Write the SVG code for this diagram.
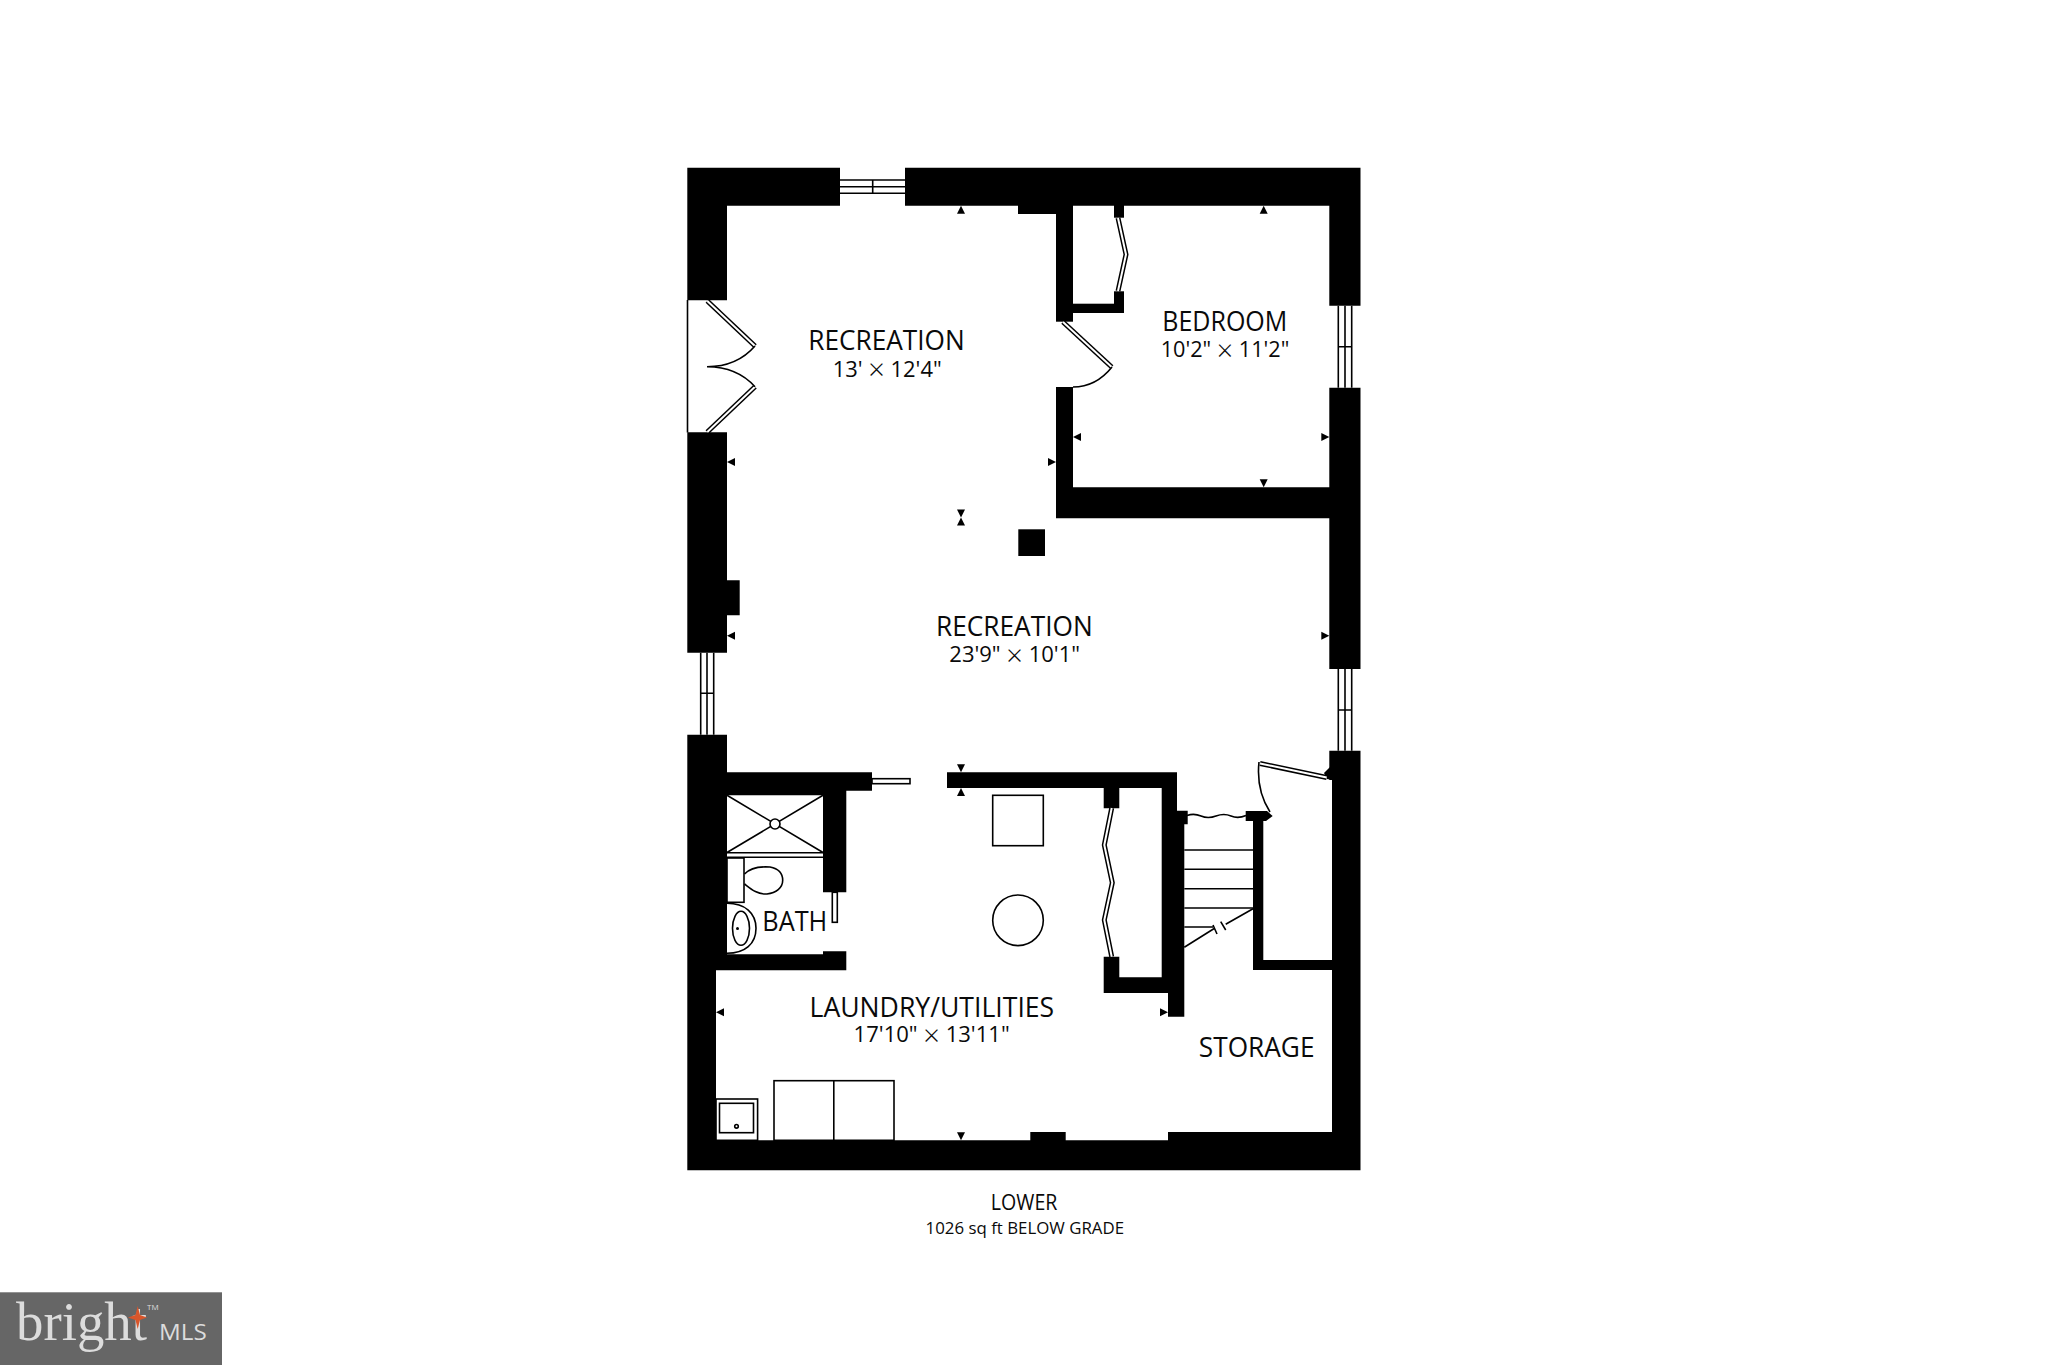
<svg xmlns="http://www.w3.org/2000/svg" width="2048" height="1365" viewBox="0 0 2048 1365">
<style>
text{font-family:"Open Sans","Noto Sans","Liberation Sans",sans-serif;fill:#0a0a0a;text-anchor:start}
.t{font-size:26.6px}
.d{font-size:22px}
.x{font-size:29px;font-weight:300}
.w{fill:#000}
.l{fill:none;stroke:#000;stroke-width:1.6}
.f{fill:#fff;stroke:#000;stroke-width:1.6}
.leaf1{fill:none;stroke:#000;stroke-width:5;stroke-linejoin:miter}
.leaf2{fill:none;stroke:#fff;stroke-width:2}
</style>
<defs>
<path id="au" d="M0 0L4 8H-4Z" fill="#000"/>
<path id="ad" d="M0 0L4 -8H-4Z" fill="#000"/>
<path id="al" d="M0 0L8 -4V4Z" fill="#000"/>
<path id="ar" d="M0 0L-8 -4V4Z" fill="#000"/>
</defs>
<rect width="2048" height="1365" fill="#fff"/>
<g id="walls" class="w">
<path d="M687.3 167.7H840V205.7H727V300.3H687.3Z"/>
<path d="M905 167.7H1360.5V305.7H1329.3V205.7H905Z"/>
<rect x="1018" y="205" width="38" height="9"/>
<rect x="1056" y="205" width="17" height="116.700"/>
<rect x="1072" y="303.700" width="52" height="9.300"/>
<rect x="1114" y="205" width="10" height="12.700"/>
<rect x="1114" y="291.300" width="10" height="13"/>
<path d="M1056 387H1073V487.300H1329.300V387.700H1360.500V669H1329.300V518.300H1056Z"/>
<rect x="1018.300" y="529.300" width="26.700" height="26.700"/>
<path d="M687.300 432.300H727V580.300H739.700V615.300H727V652.700H687.300Z"/>
<path d="M687.300 734.700H727V772.300H872V790.700H846.300V892.300H823V795.300H727V954.300H823V951.300H846.300V970.300H716V1140.300H1030.300V1132H1065.700V1140.300H1168V1132H1332V780H1329.300V750.700H1360.500V1170.300H687.300Z"/>
<path d="M947 772.300H1177V810.700H1187.700V824.300H1184.300V1016.700H1168V993H1103.700V956.700H1119.300V977.300H1161.700V788H1119.300V808.300H1103.700V788H947Z"/>
<path d="M1245.700 811H1267L1272.700 816L1266 821H1263.300V960H1333V970H1253V821H1245.700Z"/>
<path d="M1324 773L1330 767L1333 780L1327 779Z"/>
</g>
<g id="windows">
<path class="l" d="M840 180H905M840 186.700H905M840 193.300H905M872.700 180V193.300"/>
<path class="l" d="M1338.300 305.700V387.700M1345 305.700V387.700M1351.700 305.700V387.700M1338.300 346.700H1351.700"/>
<path class="l" d="M700.700 652.700V734.700M707 652.700V734.700M713.700 652.700V734.700M700.700 693.300H713.700"/>
<path class="l" d="M1338.300 669V750.700M1345 669V750.700M1351.700 669V750.700M1338.300 710H1351.700"/>
</g>
<g id="doors">
<path d="M687.500 300V432.500" class="l"/>
<path class="leaf1" d="M707.300 301L755 346"/><path class="leaf2" d="M707.300 301L755 346"/>
<path class="leaf1" d="M707.300 432L755 386.700"/><path class="leaf2" d="M707.300 432L755 386.700"/>
<path class="l" d="M755 346Q737 366.700 707 366.700Q737 366.700 755 386.700"/>
<path class="leaf1" d="M1063 322L1111.700 367"/><path class="leaf2" d="M1063 322L1111.700 367"/>
<path class="l" d="M1112 367Q1096 387 1073 387"/>
<path class="leaf1" d="M1118 218L1126 254.500L1118 291"/><path class="leaf2" d="M1118 218L1126 254.500L1118 291"/>
<rect x="872" y="778.700" width="38" height="5" class="f"/>
<rect x="832.300" y="892.300" width="5" height="30" class="f"/>
<path class="leaf1" d="M1111.700 808L1104.300 845L1112.300 882.700L1104.300 920L1111.700 956.700"/><path class="leaf2" d="M1111.700 808L1104.300 845L1112.300 882.700L1104.300 920L1111.700 956.700"/>
<path class="leaf1" d="M1260 763.500L1326.700 777.500"/><path class="leaf2" d="M1260 763.500L1326.700 777.500"/>
<path class="l" d="M1259 762Q1256 790 1270 812"/>
<path class="l" d="M1187 815.500Q1194 813 1201 816T1216 816T1231 816T1246 815.500"/>
</g>
<g id="stairs">
<path class="l" d="M1184.300 850H1253M1184.300 869.300H1253M1184.300 888.700H1253M1184.300 908H1253M1184.300 927H1213"/>
<path class="l" d="M1184.300 947.300L1215 928M1225.700 924.300L1253 908.700M1213 925L1217 934M1220.700 921.700L1225.700 930"/>
</g>
<g id="fixtures">
<path class="l" d="M727 795.300L823 852.500M823 795.300L727 852.500"/>
<circle cx="775" cy="824" r="5" class="f"/>
<path class="l" d="M727 852.700H823M727 857.300H823"/>
<rect x="727" y="858" width="17" height="44.300" class="l"/>
<path class="l" d="M744.500 874C752 866 763 866.500 770 867C778 868.500 782.700 873 782.700 880.300C782.700 888 776 893 767 894C757 894.500 751 889 744.500 884"/>
<path class="l" d="M727 903.300C745 903.300 756 913 756 928.300C756 944 745 953.300 727 953.300"/>
<ellipse cx="741" cy="928.300" rx="8.500" ry="17" class="l"/>
<circle cx="737.500" cy="928.500" r="1.500" fill="#000"/>
<rect x="992.700" y="795.300" width="50.600" height="50.400" class="l"/>
<circle cx="1018" cy="920.300" r="25.300" class="l"/>
<rect x="716" y="1099" width="41.600" height="41.300" class="f" stroke-width="1"/>
<rect x="719.500" y="1103.300" width="34" height="29.400" class="l"/>
<circle cx="736.500" cy="1126.300" r="1.800" class="l"/>
<rect x="774" y="1080.700" width="120" height="59.600" class="l"/>
<path class="l" d="M833.800 1080.700V1140.300"/>
</g>
<g id="markers">
<use href="#au" x="961" y="205.700"/>
<use href="#au" x="1263.700" y="205.700"/>
<use href="#ad" x="1263.700" y="487.300"/>
<use href="#al" x="727" y="462"/>
<use href="#ar" x="1056" y="462"/>
<use href="#al" x="1073" y="437"/>
<use href="#ar" x="1329.300" y="437"/>
<use href="#ad" x="961" y="517.500"/>
<use href="#au" x="961" y="517.500"/>
<use href="#al" x="727" y="635.700"/>
<use href="#ar" x="1329.300" y="635.700"/>
<use href="#ad" x="961" y="772.300"/>
<use href="#au" x="961" y="788"/>
<use href="#al" x="716" y="1012.300"/>
<use href="#ar" x="1168" y="1012.300"/>
<use href="#ad" x="961" y="1140.300"/>
</g>
<g id="labels">
<text class="t" x="808.300" y="350" textLength="156.400" lengthAdjust="spacingAndGlyphs">RECREATION</text>
<text class="d" x="832.700" y="376.700" textLength="109" lengthAdjust="spacingAndGlyphs">13' <tspan class="x" dy="3.500">×</tspan><tspan dy="-3.500"> 12'4"</tspan></text>
<text class="t" x="1162.300" y="331" textLength="125" lengthAdjust="spacingAndGlyphs">BEDROOM</text>
<text class="d" x="1160.700" y="357.300" textLength="128.600" lengthAdjust="spacingAndGlyphs">10'2" <tspan class="x" dy="3.500">×</tspan><tspan dy="-3.500"> 11'2"</tspan></text>
<text class="t" x="936" y="635.700" textLength="156.700" lengthAdjust="spacingAndGlyphs">RECREATION</text>
<text class="d" x="949.300" y="662" textLength="130.700" lengthAdjust="spacingAndGlyphs">23'9" <tspan class="x" dy="3.500">×</tspan><tspan dy="-3.500"> 10'1"</tspan></text>
<text class="t" x="762.300" y="930.700" textLength="65" lengthAdjust="spacingAndGlyphs">BATH</text>
<text class="t" x="809.500" y="1016.700" textLength="244.700" lengthAdjust="spacingAndGlyphs">LAUNDRY/UTILITIES</text>
<text class="d" x="853.600" y="1042" textLength="156.100" lengthAdjust="spacingAndGlyphs">17'10" <tspan class="x" dy="3.500">×</tspan><tspan dy="-3.500"> 13'11"</tspan></text>
<text class="t" x="1198.800" y="1056.700" textLength="115.700" lengthAdjust="spacingAndGlyphs">STORAGE</text>
<text x="990.800" y="1210" font-size="21" textLength="66.600" lengthAdjust="spacingAndGlyphs">LOWER</text>
<text x="925.600" y="1234" font-size="16.400" textLength="198.400" lengthAdjust="spacingAndGlyphs">1026 sq ft BELOW GRADE</text>
</g>
<g id="logo">
<rect x="0" y="1292.300" width="222" height="72.700" fill="#666"/>
<text x="16" y="1340" font-size="54" textLength="131" lengthAdjust="spacingAndGlyphs" style="font-family:'Liberation Serif',serif;fill:#dcdcdc">bright</text>
<path d="M137.700 1306L140 1315L147 1317.500L140 1320L137.700 1329L135.500 1320L128 1317.500L135.500 1315Z" fill="#d9562b"/>
<text x="147" y="1310" font-size="8" style="fill:#dcdcdc">TM</text>
<text x="159" y="1340" font-size="22" textLength="47.700" lengthAdjust="spacingAndGlyphs" style="fill:#dcdcdc">MLS</text>
</g>
</svg>
